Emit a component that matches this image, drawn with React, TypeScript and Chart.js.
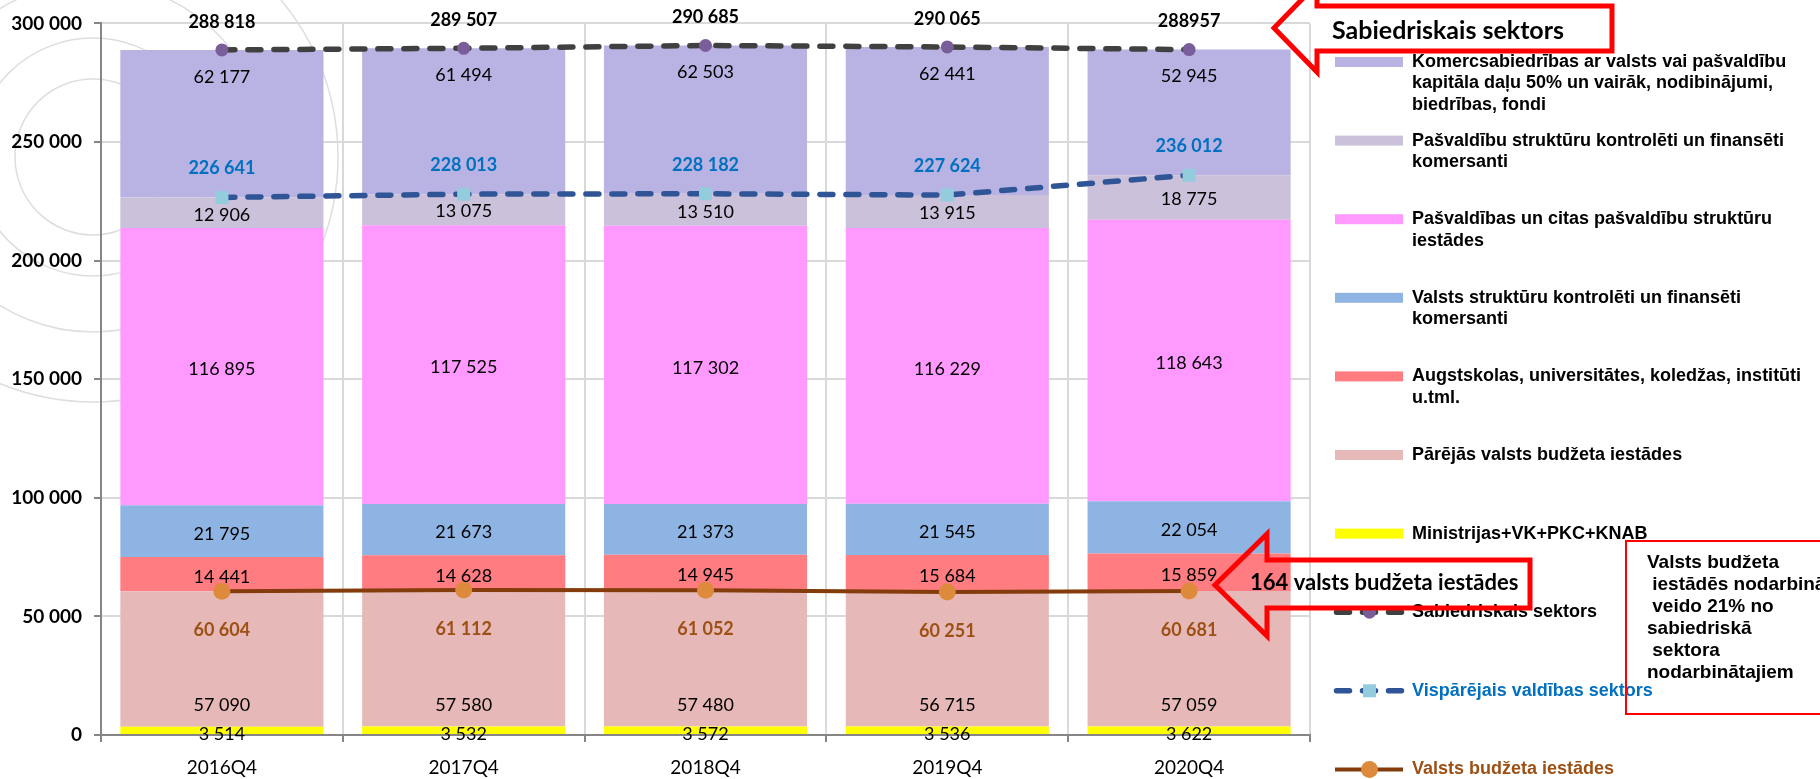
import React, { useEffect, useRef } from 'react';
import { Chart, registerables } from 'chart.js';

Chart.register(...registerables);

// ---------- data ----------
const categories = ['2016Q4', '2017Q4', '2018Q4', '2019Q4', '2020Q4'];

const ministrijas = [3514, 3532, 3572, 3536, 3622];
const parejasValstsBudzeta = [57090, 57580, 57480, 56715, 57059];
const augstskolas = [14441, 14628, 14945, 15684, 15859];
const valstsStrukturuKomersanti = [21795, 21673, 21373, 21545, 22054];
const pasvaldibas = [116895, 117525, 117302, 116229, 118643];
const pasvaldibuStrukturuKomersanti = [12906, 13075, 13510, 13915, 18775];
const komercsabiedribas = [62177, 61494, 62503, 62441, 52945];

const sabiedriskaisSektors = [288818, 289507, 290685, 290065, 288957];
const sabiedriskaisLabelSpaced = [true, true, true, true, false];
const visparejaisValdibasSektors = [226641, 228013, 228182, 227624, 236012];
const valstsBudzetaIestades = [60604, 61112, 61052, 60251, 60681];

const yMin = 0;
const yMax = 300000;
const yStep = 50000;

const seriesNames = [
  'Ministrijas+VK+PKC+KNAB',
  'Pārējās valsts budžeta iestādes',
  'Augstskolas, universitātes, koledžas, institūti\nu.tml.',
  'Valsts struktūru kontrolēti un finansēti\nkomersanti',
  'Pašvaldības un citas pašvaldību struktūru\niestādes',
  'Pašvaldību struktūru kontrolēti un finansēti\nkomersanti',
  'Komercsabiedrības ar valsts vai pašvaldību\nkapitāla daļu 50% un vairāk, nodibinājumi,\nbiedrības, fondi',
  'Sabiedriskais sektors',
  'Vispārējais valdības sektors',
  'Valsts budžeta iestādes',
];

const calloutTop = 'Sabiedriskais sektors';
const calloutBottom = '164 valsts budžeta iestādes';
const noteLines = [
  'Valsts budžeta',
  ' iestādēs nodarbinātie',
  ' veido 21% no',
  'sabiedriskā',
  ' sektora',
  'nodarbinātajiem',
];

// ---------- styles ----------
const barColors = ['#FFFF00', '#E6B9B8', '#FF7C80', '#8EB4E3', '#FF99FF', '#CCC1DA', '#B8B3E2'];
const legendOrder = [6, 5, 4, 3, 2, 1, 0, 7, 8, 9];
const legendTextColors: Record<number, string> = { 8: '#0070C0', 9: '#9C5014' };

const fmt = (v: number, spaced = true) =>
  spaced ? String(Math.round(v)).replace(/\B(?=(\d{3})+(?!\d))/g, ' ') : String(Math.round(v));

const CAL = 'Lato, "Open Sans", sans-serif';
const ARIAL = '"Liberation Sans", Arial, sans-serif';

// label placement per bar dataset: [mode, offset]
const barLabelPlacement: [string, number][] = [
  ['center', 4],
  ['bottom', -21],
  ['center', 3],
  ['center', 3],
  ['center', 3],
  ['center', 2],
  ['top', 27],
];
const lineLabelStyle: Record<number, { dy: number; color: string }> = {
  7: { dy: -28, color: '#000000' },
  8: { dy: -29, color: '#0070C0' },
  9: { dy: 39, color: '#9C5014' },
};

const bgPlugin = {
  id: 'bgDecor',
  beforeDraw(chart: any) {
    const ctx = chart.ctx;
    ctx.save();
    ctx.fillStyle = '#ffffff';
    ctx.fillRect(0, 0, chart.width, chart.height);
    ctx.strokeStyle = '#DEDEDE';
    ctx.lineWidth = 1.5;
    [78, 119, 175, 245].forEach((r) => {
      ctx.beginPath();
      ctx.arc(93, 157, r, 0, Math.PI * 2);
      ctx.stroke();
    });
    ctx.restore();
  },
};

const labelsPlugin = {
  id: 'valueLabels',
  afterDatasetsDraw(chart: any) {
    const ctx = chart.ctx;
    ctx.save();
    ctx.textAlign = 'center';
    ctx.textBaseline = 'middle';
    chart.data.datasets.forEach((ds: any, i: number) => {
      const meta = chart.getDatasetMeta(i);
      meta.data.forEach((el: any, j: number) => {
        const v = ds.data[j];
        if (ds.type === 'line') {
          const st = lineLabelStyle[i];
          ctx.font = `bold 18px ${CAL}`;
          ctx.fillStyle = st.color;
          const spaced = i === 7 ? sabiedriskaisLabelSpaced[j] : true;
          ctx.fillText(fmt(v, spaced), el.x, el.y + st.dy);
        } else {
          const [mode, off] = barLabelPlacement[i];
          const top = Math.min(el.y, el.base);
          const bottom = Math.max(el.y, el.base);
          let y = (top + bottom) / 2 + off;
          if (mode === 'bottom') y = bottom + off;
          if (mode === 'top') y = top + off;
          ctx.font = `18px ${CAL}`;
          ctx.fillStyle = '#000000';
          ctx.fillText(fmt(v), el.x, y);
        }
      });
    });
    ctx.restore();
  },
};

function drawMarker(ctx: CanvasRenderingContext2D, ds: any, x: number, y: number) {
  ctx.fillStyle = ds.pointBackgroundColor;
  ctx.beginPath();
  if (ds.pointStyle === 'rect') {
    const h = ds.pointRadius * Math.SQRT1_2;
    ctx.rect(x - h, y - h, 2 * h, 2 * h);
  } else {
    ctx.arc(x, y, ds.pointRadius, 0, Math.PI * 2);
  }
  ctx.fill();
}

const legendPlugin = {
  id: 'sideLegend',
  afterDraw(chart: any) {
    const ctx = chart.ctx;
    const x0 = 1335;
    const x1 = 1403;
    const tx = 1412;
    const startY = 62;
    const step = 78.6;
    const lineH = 21.5;
    ctx.save();
    legendOrder.forEach((di, k) => {
      const ds = chart.data.datasets[di];
      const cy = startY + k * step;
      if (ds.type === 'line') {
        ctx.save();
        ctx.strokeStyle = ds.borderColor;
        ctx.lineWidth = ds.borderWidth;
        ctx.lineCap = ds.borderCapStyle || 'butt';
        ctx.setLineDash(ds.borderDash || []);
        ctx.beginPath();
        if (ds.borderDash && ds.borderDash.length) {
          ctx.moveTo(x0 + 1.5, cy);
          ctx.lineTo(x1, cy);
        } else {
          ctx.moveTo(x0, cy);
          ctx.lineTo(x1, cy);
        }
        ctx.stroke();
        ctx.restore();
        drawMarker(ctx, ds, (x0 + x1) / 2 + 0.5, cy);
      } else {
        ctx.fillStyle = ds.backgroundColor;
        ctx.fillRect(x0, cy - 5, x1 - x0, 10);
      }
      ctx.font = `bold 18px ${ARIAL}`;
      ctx.fillStyle = legendTextColors[di] || '#000000';
      ctx.textAlign = 'left';
      ctx.textBaseline = 'middle';
      String(ds.label)
        .split('\n')
        .forEach((ln, li) => ctx.fillText(ln, tx, cy + li * lineH));
    });
    ctx.restore();
  },
};

function arrowPath(ctx: CanvasRenderingContext2D, tipX: number, tipY: number, baseX: number, headHalf: number, boxTop: number, boxBottom: number, boxRight: number) {
  ctx.beginPath();
  ctx.moveTo(tipX, tipY);
  ctx.lineTo(baseX, tipY - headHalf);
  ctx.lineTo(baseX, boxTop);
  ctx.lineTo(boxRight, boxTop);
  ctx.lineTo(boxRight, boxBottom);
  ctx.lineTo(baseX, boxBottom);
  ctx.lineTo(baseX, tipY + headHalf);
  ctx.closePath();
}

const annotationPlugin = {
  id: 'callouts',
  afterDraw(chart: any) {
    const ctx = chart.ctx;
    ctx.save();
    ctx.strokeStyle = '#FF0000';
    ctx.lineJoin = 'miter';
    ctx.lineWidth = 5;
    arrowPath(ctx, 1274, 28, 1317, 44, 6, 51, 1612);
    ctx.stroke();
    arrowPath(ctx, 1215, 585, 1267, 51, 560, 608, 1530);
    ctx.stroke();

    ctx.fillStyle = '#000000';
    ctx.textAlign = 'left';
    ctx.textBaseline = 'middle';
    ctx.font = `bold 25px ${CAL}`;
    ctx.fillText(calloutTop, 1332, 31);
    ctx.font = `bold 22px ${CAL}`;
    ctx.fillText(calloutBottom, 1250, 583);

    ctx.lineWidth = 2;
    ctx.strokeRect(1626, 541, 260, 173);
    ctx.font = `bold 19px ${ARIAL}`;
    const noteY = [563, 585, 607, 629, 651, 673];
    noteLines.forEach((ln, i) => ctx.fillText(ln, 1647, noteY[i]));
    ctx.restore();
  },
};

export default function App() {
  const ref = useRef<HTMLCanvasElement>(null);

  useEffect(() => {
    const canvas = ref.current;
    if (!canvas) return;
    const barSeries = [
      ministrijas,
      parejasValstsBudzeta,
      augstskolas,
      valstsStrukturuKomersanti,
      pasvaldibas,
      pasvaldibuStrukturuKomersanti,
      komercsabiedribas,
    ];
    const datasets: any[] = barSeries.map((d, i) => ({
      type: 'bar',
      label: seriesNames[i],
      data: d,
      backgroundColor: barColors[i],
      borderWidth: 0,
      categoryPercentage: 1,
      barPercentage: 0.84,
      order: 1,
    }));
    datasets.push(
      {
        type: 'line',
        label: seriesNames[7],
        data: sabiedriskaisSektors,
        borderColor: '#404040',
        borderWidth: 5.5,
        borderDash: [13, 13],
        borderCapStyle: 'round',
        pointStyle: 'circle',
        pointRadius: 6.5,
        pointBackgroundColor: '#7A5E9A',
        pointBorderWidth: 0,
        stack: 'sabiedriskais',
        order: 0,
        tension: 0,
      },
      {
        type: 'line',
        label: seriesNames[8],
        data: visparejaisValdibasSektors,
        borderColor: '#2F5597',
        borderWidth: 5.5,
        borderDash: [13, 13],
        borderCapStyle: 'round',
        pointStyle: 'rect',
        pointRadius: 9.2,
        pointBackgroundColor: '#93CDDD',
        pointBorderWidth: 0,
        stack: 'visparejais',
        order: 0,
        tension: 0,
      },
      {
        type: 'line',
        label: seriesNames[9],
        data: valstsBudzetaIestades,
        borderColor: '#843C0C',
        borderWidth: 4,
        pointStyle: 'circle',
        pointRadius: 8.5,
        pointBackgroundColor: '#DE8A3C',
        pointBorderWidth: 0,
        stack: 'valstsBudzeta',
        order: 0,
        tension: 0,
      }
    );

    const chart = new Chart(canvas, {
      type: 'bar',
      data: { labels: categories, datasets },
      options: {
        responsive: false,
        animation: false,
        devicePixelRatio: 1,
        layout: { padding: { left: 0, right: 510, top: 23, bottom: 0 } },
        plugins: {
          legend: { display: false },
          tooltip: { enabled: false },
        },
        scales: {
          x: {
            stacked: true,
            offset: true,
            grid: {
              offset: true,
              color: '#D9D9D9',
              lineWidth: 2,
              tickColor: '#868686',
              tickLength: 7,
            },
            border: { color: '#868686', width: 2 },
            ticks: { color: '#000000', font: { family: CAL, size: 19 }, padding: 14 },
            afterFit: (s: any) => {
              s.height = 44;
            },
          },
          y: {
            stacked: true,
            min: yMin,
            max: yMax,
            ticks: {
              stepSize: yStep,
              color: '#000000',
              font: { family: CAL, size: 19, weight: 'bold' },
              padding: 12,
              callback: (v: any) => fmt(Number(v)),
            },
            grid: { color: '#D9D9D9', lineWidth: 2, tickColor: '#868686', tickLength: 7 },
            border: { color: '#868686', width: 2 },
            afterFit: (s: any) => {
              s.width = 101;
            },
          },
        },
      } as any,
      plugins: [bgPlugin, labelsPlugin, legendPlugin, annotationPlugin],
    });
    return () => chart.destroy();
  }, []);

  return (
    <div style={{ position: 'fixed', left: 0, top: 0, width: 1820, height: 779, overflow: 'hidden', background: '#fff' }}>
      <canvas ref={ref} width={1820} height={779} style={{ display: 'block', width: 1820, height: 779 }} />
    </div>
  );
}
